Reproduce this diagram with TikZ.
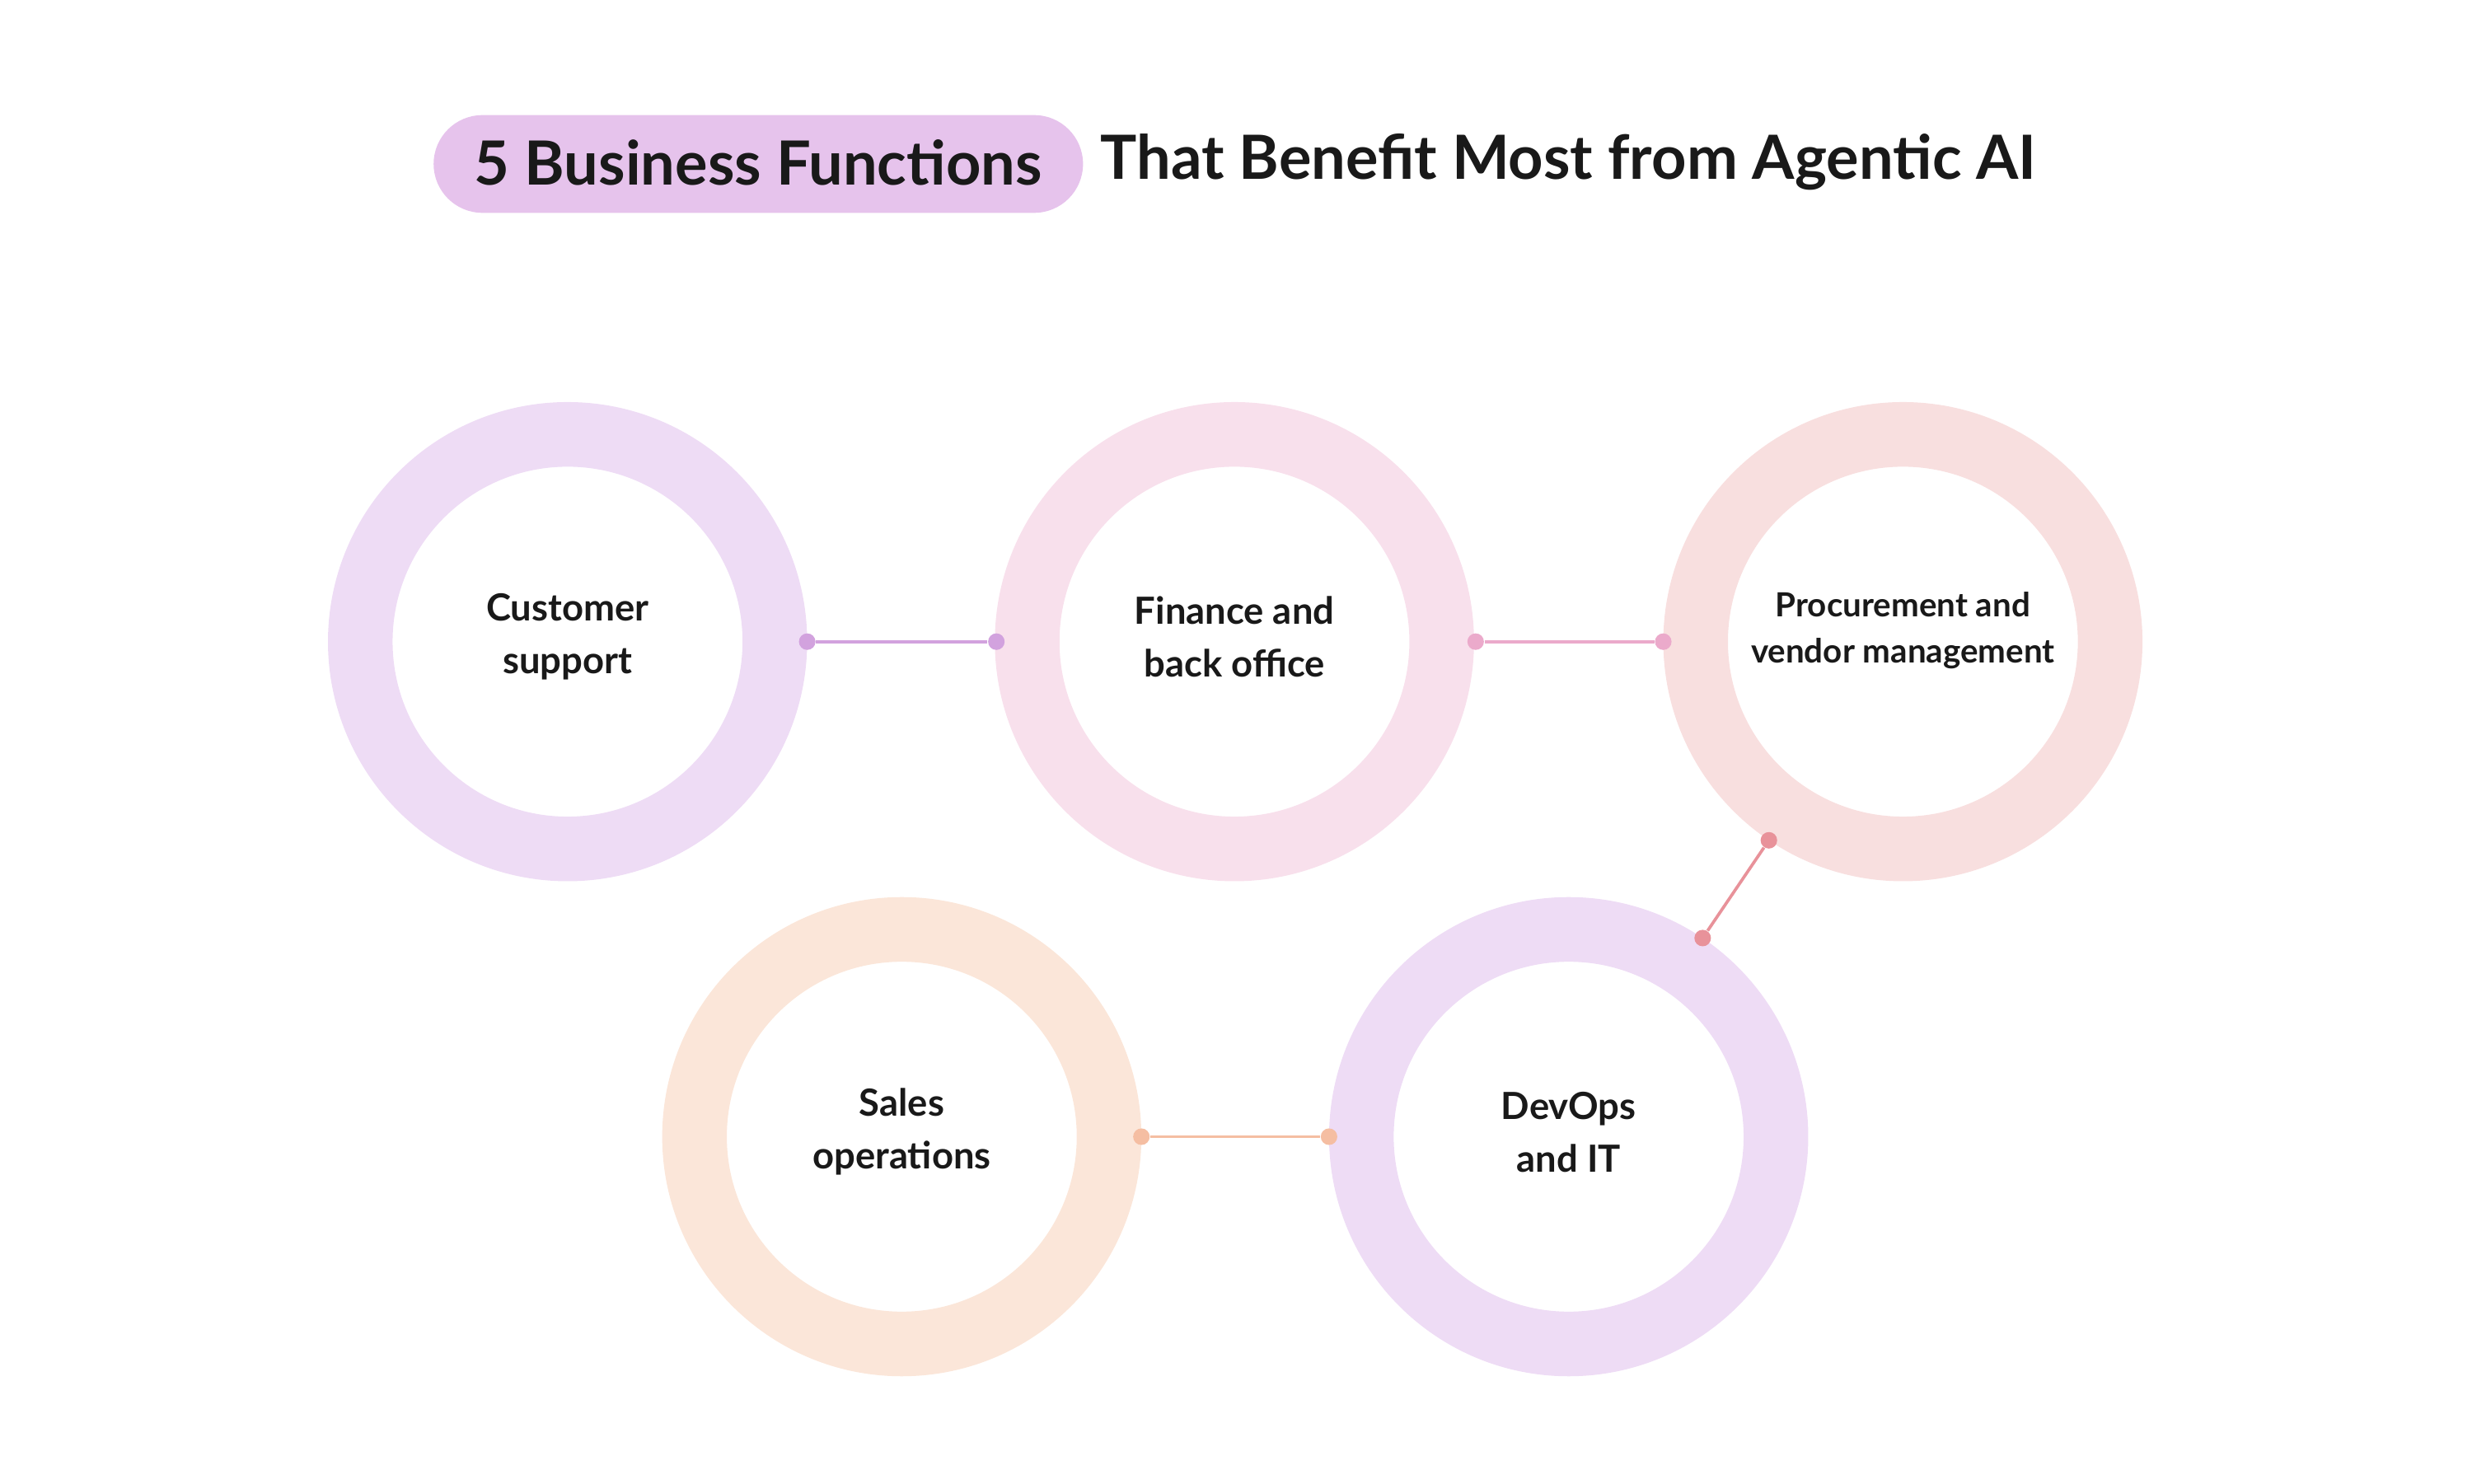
\documentclass[tikz,border=0pt]{standalone}
\usepackage{fontspec}
\setmainfont{Lato}
\begin{document}
\begin{tikzpicture}[x=0.02cm,y=-0.02cm,
 ring/.style={draw=#1,line width=0.82cm,circle,minimum size=5.26cm,inner sep=0pt},
 lbl/.style={font=\bfseries\fontsize{13.5}{19}\selectfont,align=center,text=black!90},
 dot/.style={circle,fill=#1,inner sep=0pt,minimum size=0.21cm},
 con/.style={draw=#1,line width=1.1pt}]
\definecolor{rA}{HTML}{EEDCF5}\definecolor{rB}{HTML}{F8E0EC}\definecolor{rC}{HTML}{F8DFDF}\definecolor{rD}{HTML}{FBE6D9}
\definecolor{cA}{HTML}{D2A2DE}\definecolor{cB}{HTML}{EBAACB}\definecolor{cC}{HTML}{E8929A}\definecolor{cD}{HTML}{F5BEA2}
\definecolor{pill}{HTML}{E6C3EC}
\useasboundingbox (0,0) rectangle (1568,941);
\node[fill=pill,rounded corners=0.62cm,minimum width=8.24cm,minimum height=1.24cm] (pill) at (481,104) {};
\node[font=\bfseries\fontsize{22}{26}\selectfont,text=black!90] (t1) at (481,103) {5 Business Functions};
\node[font=\bfseries\fontsize{22}{26}\selectfont,text=black!90,anchor=west] (t2) at (692,103) {That Benefit Most from Agentic AI};
\node[ring=rA] (c1) at (360,407) {};
\node[ring=rB] (c2) at (783,407) {};
\node[ring=rC] (c3) at (1207,407) {};
\node[ring=rD] (c4) at (572,721) {};
\node[ring=rA] (c5) at (995,721) {};
\node[lbl] (l1) at (360,404) {Customer\\support};
\node[lbl] (l2) at (783,404) {Finance and\\back office};
\node[lbl,font=\bfseries\fontsize{12}{16.5}\selectfont] (l3) at (1207,400) {Procurement and\\vendor management};
\node[lbl] (l4) at (572,718) {Sales\\operations};
\node[lbl] (l5) at (995,718) {DevOps\\and IT};
\node[dot=cA] (d1) at (512,407) {}; \node[dot=cA] (d2) at (632,407) {};
\node[dot=cB] (d3) at (936,407) {}; \node[dot=cB] (d4) at (1055,407) {};
\node[dot=cC] (d5) at (1122,533) {}; \node[dot=cC] (d6) at (1080,595) {};
\node[dot=cD] (d7) at (724,721) {}; \node[dot=cD] (d8) at (843,721) {};
\draw[con=cA] (d1)--(d2); \draw[con=cB] (d3)--(d4);
\draw[con=cC] (d5)--(d6); \draw[con=cD] (d7)--(d8);
\end{tikzpicture}
\end{document}
